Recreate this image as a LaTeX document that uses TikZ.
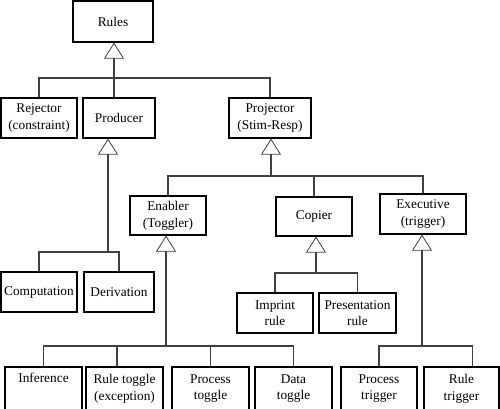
\documentclass[tikz,border=0pt]{standalone}
\usepackage{fontspec}
\setmainfont{Liberation Serif}
\usetikzlibrary{arrows.meta}
\tikzset{
  box/.style={draw=black, line width=0.9pt, inner sep=0pt, align=center, font=\fontsize{10}{12.5}\selectfont},
  conn/.style={draw=black!75, line width=0.9pt},
  inh/.style={draw=black!75, line width=0.9pt, -{Triangle[open, length=12pt, width=15pt, line width=0.6pt, fill=white]}}
}
\newcommand\bx[6]{\node[box, minimum width={(#4-#2)*0.75pt}, minimum height={(#5-#3)*0.75pt}] (#1) at ({(#2+#4)/2},{(#3+#5)/2}) {#6};}
\begin{document}
\begin{tikzpicture}[x=0.75pt, y=-0.75pt]
\useasboundingbox (0,0) rectangle (500,408);
\bx{rules}{73}{1}{153}{42}{Rules}
\bx{rej}{1}{98}{77}{138}{Rejector\\(constraint)}
\bx{prod}{83}{98}{155}{138}{Producer}
\bx{proj}{229}{98}{311}{138}{Projector\\(Stim-Resp)}
\bx{comp}{1}{272}{77}{312}{Computation}
\bx{der}{84}{272}{154}{312}{Derivation}
\bx{en}{130}{196}{206}{235}{Enabler\\(Toggler)}
\bx{cop}{276}{197}{352}{236}{Copier}
\bx{ex}{380}{194}{466}{234}{Executive\\(trigger)}
\bx{imp}{237}{293}{313}{333}{Imprint\\rule}
\bx{pres}{319}{293}{396}{333}{Presentation\\rule}
\bx{inf}{5}{367}{82}{410}{Inference\\\strut}
\bx{rt}{86}{367}{163}{410}{Rule toggle\\(exception)}
\bx{pt}{172}{367}{249}{410}{Process\\toggle}
\bx{dt}{255}{367}{332}{410}{Data\\toggle}
\bx{ptr}{341}{367}{417}{410}{Process\\trigger}
\bx{rtr}{424}{367}{499}{410}{Rule\\trigger}
% Rules hierarchy
\coordinate (b1) at (114,78);
\draw[conn] (rej.north) |- (b1) -| (proj.north);
\draw[conn] (b1) -- (prod.north -| b1);
\draw[inh] (b1) -- (rules.south -| b1);
% Producer
\coordinate (b2) at (108,252);
\draw[conn] (comp.north) |- (b2) -| (der.north);
\draw[inh] (b2) -- (prod.south -| b2);
% Projector
\coordinate (b3) at (271,176);
\draw[conn] (en.north) |- (b3) -| (ex.north);
\draw[conn] (cop.north) -- (cop.north |- b3);
\draw[inh] (b3) -- (proj.south -| b3);
% Copier
\coordinate (b4) at (316,273);
\draw[conn] (imp.north) |- (b4) -| (pres.north);
\draw[inh] (b4) -- (cop.south -| b4);
% Enabler
\coordinate (b5) at (166,346);
\draw[conn] (inf.north) |- (b5) -| (dt.north);
\draw[conn] ([xshift=-5.6pt]rt.north) -- ([xshift=-5.6pt]rt.north |- b5);
\draw[conn] (pt.north) -- (pt.north |- b5);
\draw[inh] (b5) -- (en.south -| b5);
% Executive
\coordinate (b6) at (422,346);
\draw[conn] (ptr.north) |- (b6) -| ([xshift=8pt]rtr.north);
\draw[inh] (b6) -- (ex.south -| b6);
\end{tikzpicture}
\end{document}
